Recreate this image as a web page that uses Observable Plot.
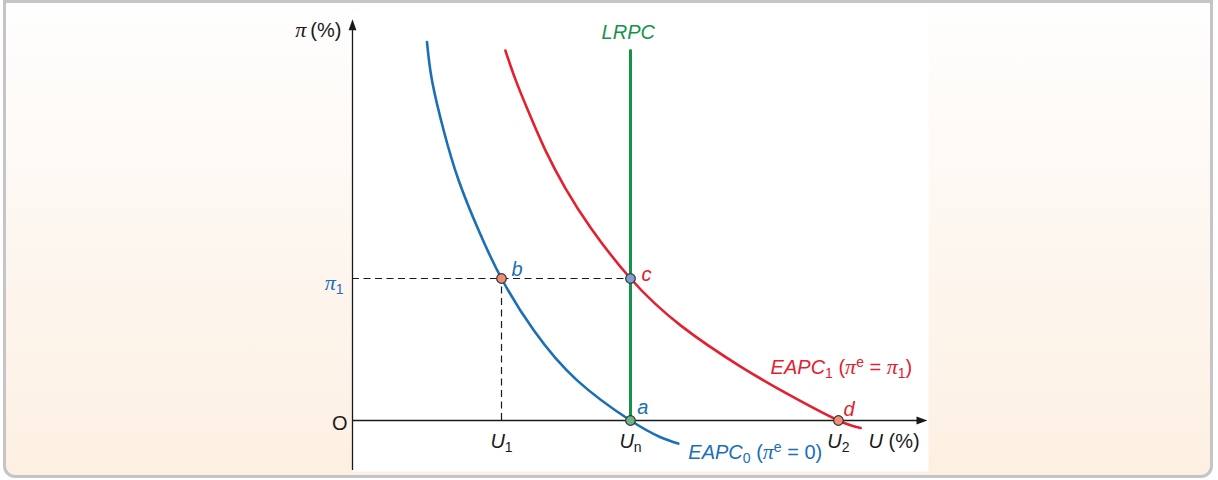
<!DOCTYPE html>
<html><head><meta charset="utf-8">
<script src="https://cdn.jsdelivr.net/npm/d3@7"></script>
<script src="https://cdn.jsdelivr.net/npm/@observablehq/plot@0.6"></script>
<style>
html,body{margin:0;padding:0;width:1218px;height:480px;overflow:hidden;background:#fff;}
#panel{position:absolute;left:3px;top:0;width:1204px;height:472px;border:3px solid #c5c5c9;border-radius:0 0 12px 12px;background:linear-gradient(to bottom,#fefefe 0%,#fdf0e2 100%);}
#chart{position:absolute;left:0;top:0;}
</style></head><body>
<div id="panel"></div><div id="chart"></div>
<script>
// ---- key values (U in %, π in %) ----
const Un = 5, U1 = 2.68, U2 = 8.74, pi1 = 4;
// EAPC0 (πe = 0)
const eapc0U  = [1.34, 1.43, 1.64, 1.91, 2.27, 2.68, 3.26, 4.04, 5.0, 5.54, 5.86];
const eapc0Pi = [10.66, 9.58, 8.17, 6.76, 5.35, 4.0, 2.54, 1.13, 0, -0.47, -0.65];
// EAPC1 (πe = π1)
const eapc1U  = [2.75, 2.93, 3.17, 3.47, 3.83, 4.28, 5.0, 5.90, 6.98, 7.88, 8.74, 9.14];
const eapc1Pi = [10.42, 9.61, 8.68, 7.61, 6.54, 5.44, 4.0, 2.68, 1.52, 0.70, 0, -0.21];
// LRPC
const lrpcU = [Un, Un];
const lrpcPi = [0, 10.42];
// axes extents
const xAxisU = [0, 10.34];
const yAxisPi = [-1.41, 11.3];
// labelled points
const pointNames = ["a", "b", "c", "d"];
const pointU = [Un, U1, Un, U2];
const pointPi = [0, pi1, pi1, 0];
const pointLabelU = [5.12, 2.86, 5.2, 8.83];
const pointLabelPi = [0.35, 4.25, 4.1, 0.31];
// tick labels
const uTickText = ["*U*_1", "*U*_n", "*U*_2"];
const uTickPos = [U1, Un, U2];
const uTickPi = -0.6;
// other texts
const yTitle = "π\u2009(%)", yTitleU = -0.2, yTitlePi = 10.99;
const xTitle = "*U* (%)", xTitleU = 9.28, xTitlePi = -0.6;
const originText = "O", originU = -0.23, originPi = -0.08;
const pi1Text = "π_1", pi1TextU = -0.16, pi1TextPi = 3.86;
const lrpcText = "*LRPC*", lrpcTextU = 4.96, lrpcTextPi = 10.93;
const eapc0Text = "*EAPC*_0 (π^e = 0)", eapc0TextU = 6.04, eapc0TextPi = -0.9;
const eapc1Text = "*EAPC*_1 (π^e = π_1)", eapc1TextU = 7.52, eapc1TextPi = 1.48;

// ---- styles ----
const BLUE = "#1a6fb7", RED = "#e3202e", GREEN = "#13934a", INK = "#1a1a1a";
const pointFill = ["#6fb584", "#ef8e78", "#7c9fd4", "#ef8e78"];
const FS = 20;

const idx = a => a.map((_, i) => i);
const arrowHead = {
  draw(ctx, size) {
    const r = Math.sqrt(size / Math.PI);
    ctx.moveTo(0, 0);
    ctx.lineTo(-r, 2.8 * r);
    ctx.lineTo(r, 2.8 * r);
    ctx.closePath();
  }
};

const single = (txt, u, p) => [{t: txt, u, p}];

const plot = Plot.plot({
  width: 1218, height: 480,
  marginLeft: 352, marginRight: 290, marginTop: 11, marginBottom: 9,
  x: {domain: [0, 5], range: [352, 630], axis: null},
  y: {domain: [0, 4], range: [420, 278], axis: null},
  style: {background: "transparent", fontFamily: "'Liberation Sans', Arial, sans-serif", fontSize: FS + "px", overflow: "visible"},
  marks: [
    Plot.frame({fill: "white", stroke: "none"}),
    // dashed guides
    Plot.ruleY([pi1], {x1: 0, x2: Un, stroke: INK, strokeWidth: 1.2, strokeDasharray: "7,4.5"}),
    Plot.ruleX([U1], {y1: 0, y2: pi1, stroke: INK, strokeWidth: 1.2, strokeDasharray: "7,4.5"}),
    // axes
    Plot.ruleY([0], {x1: xAxisU[0], x2: xAxisU[1] - 0.1, stroke: INK, strokeWidth: 1.3}),
    Plot.ruleX([0], {y1: yAxisPi[0], y2: yAxisPi[1] - 0.15, stroke: INK, strokeWidth: 1.3}),
    Plot.dot([0], {x: () => xAxisU[1], y: () => 0, symbol: arrowHead, r: 3.9, fill: INK, stroke: "none", rotate: 90}),
    Plot.dot([0], {x: () => 0, y: () => yAxisPi[1], symbol: arrowHead, r: 3.9, fill: INK, stroke: "none"}),
    // curves
    Plot.line(idx(eapc0U), {x: i => eapc0U[i], y: i => eapc0Pi[i], curve: "natural", stroke: BLUE, strokeWidth: 2.6}),
    Plot.line(idx(eapc1U), {x: i => eapc1U[i], y: i => eapc1Pi[i], curve: "natural", stroke: RED, strokeWidth: 2.6}),
    Plot.line(idx(lrpcU), {x: i => lrpcU[i], y: i => lrpcPi[i], stroke: GREEN, strokeWidth: 3}),
    // points
    Plot.dot(idx(pointNames), {x: i => pointU[i], y: i => pointPi[i], r: 4.8, fill: i => pointFill[i], stroke: "#333", strokeWidth: 1.2}),
    // point labels
    Plot.text(idx(pointNames), {x: i => pointLabelU[i], y: i => pointLabelPi[i], text: i => "*" + pointNames[i] + "*", textAnchor: "start", fill: i => (i === 0 || i === 1) ? BLUE : RED, fontSize: FS}),
    // tick labels
    Plot.text(idx(uTickText), {x: i => uTickPos[i], y: () => uTickPi, text: i => uTickText[i], fill: INK, fontSize: FS}),
    Plot.text(single(xTitle, xTitleU, xTitlePi), {x: "u", y: "p", text: "t", textAnchor: "start", fill: INK, fontSize: FS}),
    Plot.text(single(yTitle, yTitleU, yTitlePi), {x: "u", y: "p", text: "t", textAnchor: "end", fill: INK, fontSize: FS}),
    Plot.text(single(originText, originU, originPi), {x: "u", y: "p", text: "t", fill: INK, fontSize: FS}),
    Plot.text(single(pi1Text, pi1TextU, pi1TextPi), {x: "u", y: "p", text: "t", textAnchor: "end", fill: BLUE, fontSize: FS}),
    Plot.text(single(lrpcText, lrpcTextU, lrpcTextPi), {x: "u", y: "p", text: "t", fill: GREEN, fontSize: FS}),
    Plot.text(single(eapc0Text, eapc0TextU, eapc0TextPi), {x: "u", y: "p", text: "t", textAnchor: "start", fill: BLUE, fontSize: FS}),
    Plot.text(single(eapc1Text, eapc1TextU, eapc1TextPi), {x: "u", y: "p", text: "t", textAnchor: "start", fill: RED, fontSize: FS})
  ]
});

// rich text: *italic*, _sub, ^sup, π in serif italic
function parse(s) {
  const out = []; let italic = false; let buf = "";
  const flush = () => { if (buf) { out.push([buf, italic ? "i" : "n"]); buf = ""; } };
  for (let k = 0; k < s.length; k++) {
    const c = s[k];
    if (c === "*") { flush(); italic = !italic; }
    else if (c === "_") { flush(); out.push([s[++k], "sub"]); }
    else if (c === "^") { flush(); out.push([s[++k], "sup"]); }
    else if (c === "π") { flush(); out.push(["π", "pi"]); }
    else buf += c;
  }
  flush();
  return out;
}
const NS = "http://www.w3.org/2000/svg";
plot.querySelectorAll("text").forEach(t => {
  const s = t.textContent;
  if (!/[*_^π]/.test(s)) return;
  const segs = parse(s);
  while (t.firstChild) t.removeChild(t.firstChild);
  let shift = 0;
  for (const [txt, kind] of segs) {
    const ts = document.createElementNS(NS, "tspan");
    ts.textContent = txt;
    let target = 0;
    if (kind === "i") ts.setAttribute("font-style", "italic");
    if (kind === "pi") { ts.setAttribute("font-style", "italic"); ts.setAttribute("font-family", "'Liberation Serif', serif"); ts.setAttribute("font-size", (FS * 1.1) + "px"); }
    if (kind === "sub") { ts.setAttribute("font-size", (FS * 0.7) + "px"); target = 4; }
    if (kind === "sup") { ts.setAttribute("font-size", (FS * 0.7) + "px"); target = -7; }
    if (target !== shift) { ts.setAttribute("dy", target - shift); shift = target; }
    t.appendChild(ts);
  }
});
document.getElementById("chart").appendChild(plot);
</script></body></html>
